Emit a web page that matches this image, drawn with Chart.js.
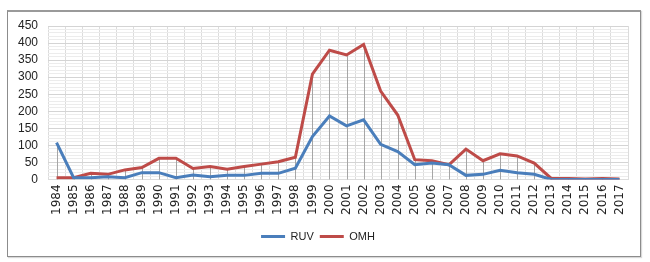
<!DOCTYPE html>
<html>
<head>
<meta charset="utf-8">
<script src="https://cdn.jsdelivr.net/npm/chart.js@4.4.0/dist/chart.umd.min.js"></script>
<style>
  html, body { margin: 0; padding: 0; background: #fff; }
  #wrap { position: relative; width: 650px; height: 262px; }
  #frame { position: absolute; left: 7px; top: 10px; width: 632px; height: 244px; border: 1px solid #8c8c8c; border-top: 2px solid #9a9a9a; pointer-events: none; box-shadow: 1px 1px 1px rgba(0,0,0,0.15); }
</style>
</head>
<body>
<div id="wrap">
  <canvas id="c" width="650" height="262"></canvas>
  <div id="frame"></div>
</div>
<script>
const years = ['1984','1985','1986','1987','1988','1989','1990','1991','1992','1993','1994','1995','1996','1997','1998','1999','2000','2001','2002','2003','2004','2005','2006','2007','2008','2009','2010','2011','2012','2013','2014','2015','2016','2017'];
const ruv = [108, 5, 5, 8, 5, 20, 20, 5, 13, 8, 12, 12, 18, 18, 33, 126, 186, 157, 175, 103, 82, 43, 48, 43, 12, 15, 27, 20, 15, 0, 0, 0, 0, 0];
const omh = [5, 5, 18, 15, 28, 35, 62, 62, 32, 38, 30, 38, 45, 52, 65, 309, 379, 365, 396, 259, 189, 58, 55, 43, 89, 55, 75, 69, 48, 3, 3, 1, 3, 1];
const yTicks = [0, 50, 100, 150, 200, 250, 300, 350, 400, 450];

const dropLines = {
  id: 'dropLines',
  beforeDatasetsDraw(chart) {
    const ctx = chart.ctx, xs = chart.scales.x, ys = chart.scales.y;
    ctx.save();
    ctx.strokeStyle = '#a6a6a6';
    ctx.lineWidth = 1;
    for (let i = 0; i < years.length; i++) {
      const m = Math.max(ruv[i], omh[i]);
      const x = Math.round(xs.getPixelForValue(i)) + 0.5;
      ctx.beginPath();
      ctx.moveTo(x, ys.getPixelForValue(m));
      ctx.lineTo(x, ys.getPixelForValue(0));
      ctx.stroke();
    }
    ctx.restore();
  }
};

new Chart(document.getElementById('c'), {
  type: 'line',
  data: {
    labels: years,
    datasets: [
      { label: 'RUV', data: ruv, borderColor: '#4a7ebb', backgroundColor: '#4a7ebb', borderWidth: 3, pointRadius: 0, tension: 0 },
      { label: 'OMH', data: omh, borderColor: '#be4b48', backgroundColor: '#be4b48', borderWidth: 3, pointRadius: 0, tension: 0 }
    ]
  },
  options: {
    responsive: false,
    animation: false,
    layout: { padding: { left: 8, right: 22, top: 26, bottom: 10 } },
    plugins: {
      legend: {
        position: 'bottom',
        labels: {
          boxWidth: 24,
          boxHeight: 3,
          padding: 6,
          color: '#222',
          font: { family: 'Liberation Sans', size: 11 },
          generateLabels(chart) {
            return Chart.defaults.plugins.legend.labels.generateLabels(chart).map(l => Object.assign(l, { lineWidth: 0 }));
          }
        }
      },
      tooltip: { enabled: false }
    },
    scales: {
      x: {
        offset: true,
        grid: { offset: true, color: '#dcdcdc', drawTicks: false },
        border: { display: true, color: '#dcdcdc' },
        afterFit(scale) { scale.height += 5; },
        ticks: {
          minRotation: 90, maxRotation: 90, autoSkip: false, padding: 5,
          color: '#222', font: { family: 'DejaVu Sans', size: 12 }
        }
      },
      y: {
        min: 0, max: 450,
        grid: {
          drawTicks: false,
          color: c => (c.tick && c.tick.value % 50 === 0) ? '#d4d4d4' : '#ececec'
        },
        border: { display: false },
        ticks: {
          stepSize: 10, padding: 10, color: '#222', autoSkip: false,
          font: { family: 'Liberation Sans', size: 12 },
          callback: v => yTicks.includes(v) ? String(v) : ''
        }
      }
    }
  },
  plugins: [dropLines]
});
</script>
</body>
</html>
